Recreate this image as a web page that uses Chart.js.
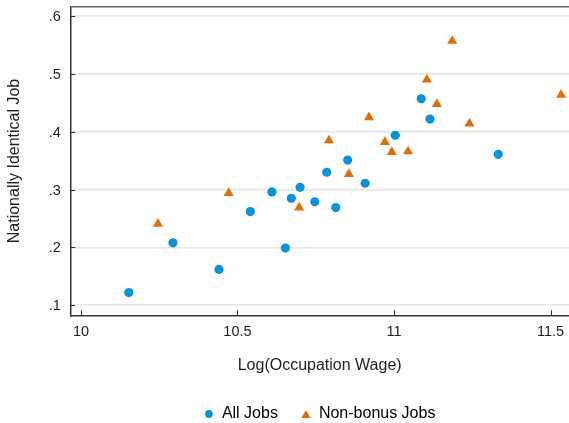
<!DOCTYPE html>
<html>
<head>
<meta charset="utf-8">
<script src="https://cdn.jsdelivr.net/npm/chart.js@4.4.1/dist/chart.umd.min.js"></script>
<style>
  html, body { margin: 0; padding: 0; background: #ffffff; }
  canvas { display: block; }
</style>
</head>
<body>
<canvas id="chart" width="569" height="423"></canvas>
<script>
// Share of jobs posted under a nationally identical title, by log occupation wage
const seriesNames = ['All Jobs', 'Non-bonus Jobs'];

const allJobsWage  = [10.153, 10.294, 10.441, 10.541, 10.610, 10.653, 10.672, 10.700, 10.747,
                      10.785, 10.814, 10.852, 10.908, 11.004, 11.087, 11.115, 11.333];
const allJobsShare = [0.122, 0.208, 0.162, 0.262, 0.296, 0.199, 0.285, 0.304, 0.279,
                      0.330, 0.269, 0.351, 0.311, 0.394, 0.457, 0.422, 0.361];

const nonBonusWage  = [10.246, 10.472, 10.697, 10.792, 10.856, 10.920, 10.971, 10.993, 11.045,
                       11.105, 11.137, 11.186, 11.241, 11.534];
const nonBonusShare = [0.241, 0.294, 0.269, 0.385, 0.327, 0.425, 0.382, 0.365, 0.366,
                       0.490, 0.448, 0.557, 0.414, 0.464];

const xTickValues = [10, 10.5, 11, 11.5];
const xTickLabels = ['10', '10.5', '11', '11.5'];
const yTickValues = [0.1, 0.2, 0.3, 0.4, 0.5, 0.6];
const yTickLabels = ['.1', '.2', '.3', '.4', '.5', '.6'];

const xTitle = 'Log(Occupation Wage)';
const yTitle = 'Nationally Identical Job';

const BLUE = '#0b93da';
const ORANGE = '#e36c0a';
const INK = '#1e1e1e';
const FONT = 'Liberation Sans, Arial, Helvetica, sans-serif';

function toPoints(xs, ys) {
  return xs.map((x, i) => ({ x: x, y: ys[i] }));
}

// small glyphs for the legend keys
function legendGlyph(kind, color) {
  const c = document.createElement('canvas');
  c.width = 12; c.height = 12;
  const g = c.getContext('2d');
  g.fillStyle = color;
  g.beginPath();
  if (kind === 'circle') {
    g.arc(6, 6, 3.9, 0, Math.PI * 2);
  } else {
    g.moveTo(6, 2);
    g.lineTo(10.6, 10);
    g.lineTo(1.4, 10);
    g.closePath();
  }
  g.fill();
  return c;
}
const legendGlyphs = [legendGlyph('circle', BLUE), legendGlyph('triangle', ORANGE)];

// inward tick marks plus the frame line along the top of the plot
const frameAndTicks = {
  id: 'frameAndTicks',
  afterDatasetsDraw(chart) {
    const { ctx, chartArea: a, scales: { x, y } } = chart;
    ctx.save();
    ctx.strokeStyle = '#5e5e5e';
    ctx.lineWidth = 1.4;
    ctx.beginPath();
    ctx.moveTo(a.left, a.top);
    ctx.lineTo(a.right, a.top);
    ctx.stroke();

    ctx.strokeStyle = '#333333';
    ctx.lineWidth = 1.1;
    ctx.beginPath();
    yTickValues.forEach(v => {
      const py = Math.round(y.getPixelForValue(v)) + 0.5;
      ctx.moveTo(a.left, py);
      ctx.lineTo(a.left + 5, py);
    });
    xTickValues.forEach(v => {
      const px = Math.round(x.getPixelForValue(v)) + 0.5;
      ctx.moveTo(px, a.bottom);
      ctx.lineTo(px, a.bottom - 5);
    });
    ctx.stroke();
    ctx.restore();
  }
};

new Chart(document.getElementById('chart'), {
  type: 'scatter',
  data: {
    datasets: [
      {
        label: seriesNames[0],
        data: toPoints(allJobsWage, allJobsShare),
        pointStyle: 'circle',
        pointRadius: 4.6,
        pointHoverRadius: 4.6,
        backgroundColor: BLUE,
        borderColor: BLUE,
        borderWidth: 0,
        clip: false
      },
      {
        label: seriesNames[1],
        data: toPoints(nonBonusWage, nonBonusShare),
        pointStyle: 'triangle',
        pointRadius: 5.8,
        pointHoverRadius: 5.8,
        backgroundColor: ORANGE,
        borderColor: ORANGE,
        borderWidth: 0,
        clip: false
      }
    ]
  },
  options: {
    responsive: false,
    animation: false,
    events: [],
    layout: { autoPadding: false, padding: { top: 6.7, left: 0, right: 0, bottom: -9 } },
    scales: {
      x: {
        type: 'linear',
        min: 9.966,
        max: 11.559,
        afterBuildTicks(s) { s.ticks = xTickValues.map(v => ({ value: v })); },
        afterFit(s) {
          s.height = 67.7;
          s.paddingLeft = 0; s.paddingRight = 0;
        },
        grid: { display: false, drawTicks: false },
        border: { display: true, color: '#333333', width: 1.5 },
        ticks: {
          padding: 7.7,
          maxRotation: 0,
          autoSkip: false,
          color: INK,
          font: { family: FONT, size: 14.5 },
          callback: (v) => xTickLabels[xTickValues.indexOf(v)]
        },
        title: {
          display: true,
          text: xTitle,
          color: INK,
          font: { family: FONT, size: 16 },
          padding: { top: 0, bottom: 7.4 }
        }
      },
      y: {
        type: 'linear',
        min: 0.0827,
        max: 0.6162,
        afterBuildTicks(s) { s.ticks = yTickValues.map(v => ({ value: v })); },
        afterFit(s) {
          s.width = 70.3;
          s.paddingTop = 0; s.paddingBottom = 0;
        },
        grid: { display: true, drawTicks: false, color: '#e4e4e4', lineWidth: 1.6 },
        border: { display: true, color: '#333333', width: 1.5 },
        ticks: {
          padding: 9.5,
          labelOffset: 1,
          autoSkip: false,
          color: INK,
          font: { family: FONT, size: 14.5 },
          callback: (v) => yTickLabels[yTickValues.indexOf(Math.round(v * 10) / 10)]
        },
        title: {
          display: true,
          text: yTitle,
          color: INK,
          font: { family: FONT, size: 16 },
          padding: { top: 5.4, bottom: 0 }
        }
      }
    },
    plugins: {
      tooltip: { enabled: false },
      legend: {
        display: true,
        position: 'bottom',
        fullSize: false,
        align: 'center',
        labels: {
          usePointStyle: true,
          boxWidth: 10,
          boxHeight: 10,
          padding: 23,
          color: INK,
          font: { family: FONT, size: 16 },
          generateLabels(chart) {
            return chart.data.datasets.map((ds, i) => ({
              text: ds.label,
              pointStyle: legendGlyphs[i],
              fillStyle: ds.backgroundColor,
              strokeStyle: ds.borderColor,
              lineWidth: 0,
              hidden: false,
              datasetIndex: i
            }));
          }
        }
      }
    }
  },
  plugins: [frameAndTicks]
});
</script>
</body>
</html>
